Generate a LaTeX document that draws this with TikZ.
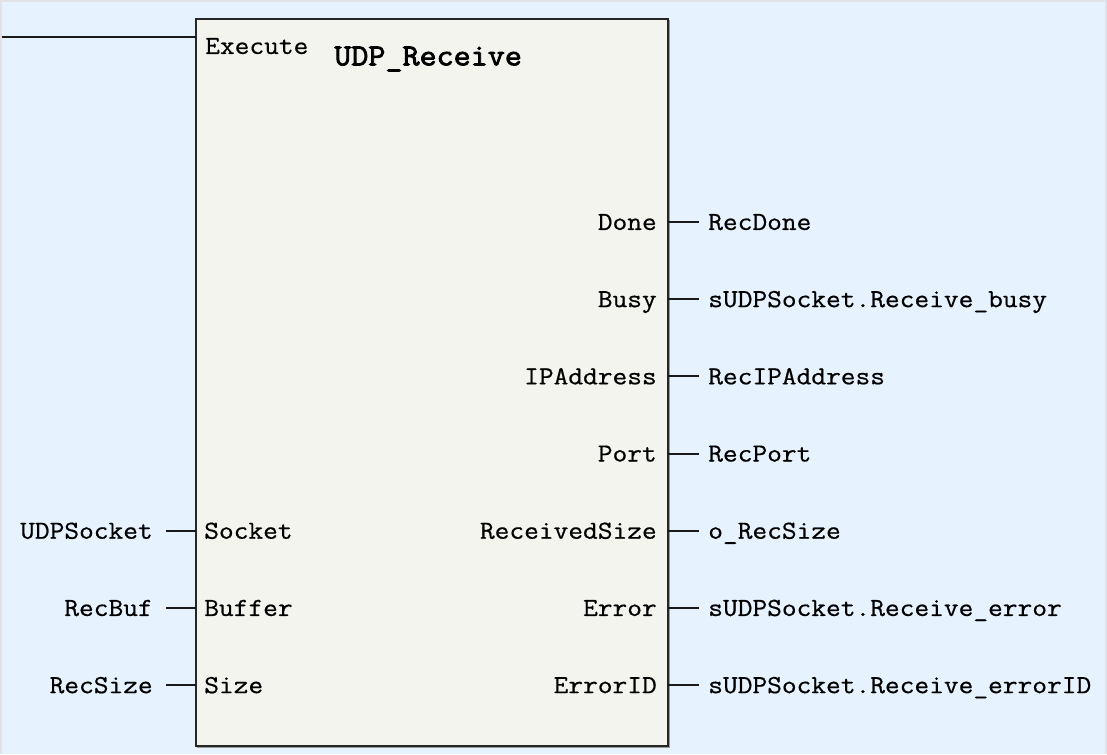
\documentclass[tikz,border=0pt]{standalone}
\usepackage{fontspec}
\newfontfamily\pinfont[FakeStretch=1.1,FakeBold=0.6]{Latin Modern Mono}
\newfontfamily\titlefont[FakeStretch=1.08,FakeBold=2.6]{Latin Modern Mono}
\usetikzlibrary{positioning}
\definecolor{bgblue}{RGB}{230,243,254}
\definecolor{framegray}{RGB}{224,226,230}
\definecolor{fbfill}{RGB}{244,244,238}
\tikzset{
  wire/.style={line width=1.5pt,black!90},
  fbbox/.style={draw=black!85,fill=fbfill,line width=1.5pt,inner sep=0pt,outer sep=0pt,
    minimum width=354pt,minimum height=545.25pt},
  pinname/.style={inner sep=0pt,text height=11.9pt,text depth=0pt,
    font=\pinfont\fontsize{19.5}{23}\selectfont},
  titletext/.style={inner sep=0pt,text height=14.05pt,text depth=0pt,
    font=\titlefont\fontsize{23}{27}\selectfont},
  outvar/.style={pinname,inner xsep=6.75pt,anchor=west},
  invar/.style={pinname,inner xsep=9.75pt,anchor=east},
}
\begin{document}
\begin{tikzpicture}[x=0.75pt,y=-0.75pt]
  \fill[bgblue] (0,0) rectangle (1107,754); % 背景
  \draw[framegray,line width=1.5pt] (1,754) -- (1,1) -- (1106,1) -- (1106,754); % 外枠（左・上・右）
  \node[fbbox] (fb) at (432,382.5) {}; % ファンクションブロック本体
  \draw[black!40,line width=0.75pt] ([xshift=1.4pt,yshift=-1pt]fb.north east)
    -- ([xshift=1.4pt,yshift=-1.4pt]fb.south east) -- ([xshift=1pt,yshift=-1.4pt]fb.south west); % 影
  \node[titletext,anchor=west] (title) at (334,56) {UDP\_Receive}; % ブロック名
  \node[pinname,anchor=west] (pExecute) at (205,46) {Execute}; % 起動入力
  \coordinate (exeIn) at (2,37); % 左から来る配線の端
  \draw[wire] (exeIn) -- (fb.west |- exeIn);
  % 入力ピン
  \node[pinname,anchor=west] (pSocket) at (204,530.8) {Socket};
  \node[pinname,anchor=west] (pBuffer) at (204,608) {Buffer};
  \node[pinname,anchor=west] (pSize) at (204,685.2) {Size};
  \node[invar] (vSocket) at (166,530.8) {UDPSocket};
  \node[invar] (vBuffer) at (166,608) {RecBuf};
  \node[invar] (vSize) at (166,685.2) {RecSize};
  \draw[wire] (vSocket.east) -- (fb.west |- vSocket.east);
  \draw[wire] (vBuffer.east) -- (fb.west |- vBuffer.east);
  \draw[wire] (vSize.east) -- (fb.west |- vSize.east);
  % 出力ピン
  \node[pinname,anchor=east] (pDone) at (657,222) {Done};
  \node[pinname,anchor=east] (pBusy) at (657,299.2) {Busy};
  \node[pinname,anchor=east] (pIP) at (657,376.4) {IPAddress};
  \node[pinname,anchor=east] (pPort) at (657,453.6) {Port};
  \node[pinname,anchor=east] (pRecSize) at (657,530.8) {ReceivedSize};
  \node[pinname,anchor=east] (pError) at (657,608) {Error};
  \node[pinname,anchor=east] (pErrorID) at (657,685.2) {ErrorID};
  \node[outvar] (vDone) at (699,222) {RecDone};
  \node[outvar] (vBusy) at (699,299.2) {sUDPSocket.Receive\_busy};
  \node[outvar] (vIP) at (699,376.4) {RecIPAddress};
  \node[outvar] (vPort) at (699,453.6) {RecPort};
  \node[outvar] (vRecSize) at (699,530.8) {o\_RecSize};
  \node[outvar] (vError) at (699,608) {sUDPSocket.Receive\_error};
  \node[outvar] (vErrorID) at (699,685.2) {sUDPSocket.Receive\_errorID};
  \draw[wire] (fb.east |- vDone.west) -- (vDone.west);
  \draw[wire] (fb.east |- vBusy.west) -- (vBusy.west);
  \draw[wire] (fb.east |- vIP.west) -- (vIP.west);
  \draw[wire] (fb.east |- vPort.west) -- (vPort.west);
  \draw[wire] (fb.east |- vRecSize.west) -- (vRecSize.west);
  \draw[wire] (fb.east |- vError.west) -- (vError.west);
  \draw[wire] (fb.east |- vErrorID.west) -- (vErrorID.west);
\end{tikzpicture}
\end{document}
